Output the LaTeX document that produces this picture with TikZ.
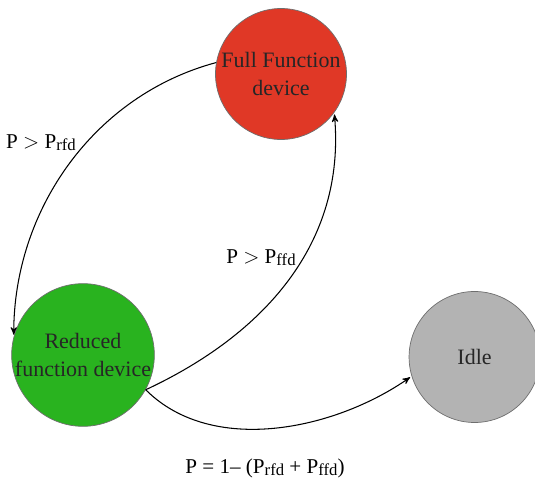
\documentclass[tikz,border=0pt]{standalone}
\usepackage{fontspec}
\setmainfont{Liberation Serif}
\usepackage{tikz}
\usetikzlibrary{positioning,arrows,automata}

\definecolor{ffdred}{HTML}{E03826}
\definecolor{rfdgreen}{HTML}{29B31F}
\definecolor{idlegray}{HTML}{B3B3B3}
\definecolor{rimgray}{HTML}{6E6E6E}
\definecolor{inkgray}{HTML}{262626}

\newcommand{\psub}[1]{P\raisebox{-0.2ex}{\fontsize{9.5}{11}\selectfont #1}}

\tikzset{
  devstate/.style={state,draw=rimgray,thin,text=inkgray,align=center,inner sep=0pt,minimum size=2.62cm},
  lbl/.style={font=\fontsize{12}{14}\selectfont,text=black}
}

\begin{document}
\begin{tikzpicture}[->,>=stealth',shorten >=1pt,semithick,font=\fontsize{12.5}{16}\selectfont]
    \useasboundingbox (0,0) rectangle (10.7,-9.62);

    \node[devstate,fill=ffdred]    (F) at (5.62,-1.48) {Full Function\\device};
    \node[devstate,fill=rfdgreen]  (R) at (1.66,-7.10) {Reduced\\function device};
    \node[devstate,fill=idlegray]  (I) [right=5.08cm of R,yshift=-0.04cm] {Idle};

    \node[lbl] (L1) at (0.82,-2.86) {P $>$ \psub{rfd}};
    \node[lbl] (L2) at (5.22,-5.16) {P $>$ \psub{ffd}};
    \node[lbl] (L3) at (5.30,-9.36) {P = 1– (\psub{rfd} + \psub{ffd})};

    \path
    (F.170) edge [out=195,in=90,looseness=0.95] (R.165)
    (R.-29) edge [out=25,in=-85,looseness=1.0]  (F.-36)
    (R.-29) edge [out=-45,in=215,looseness=0.9] (I.197);
  \end{tikzpicture}
\end{document}
